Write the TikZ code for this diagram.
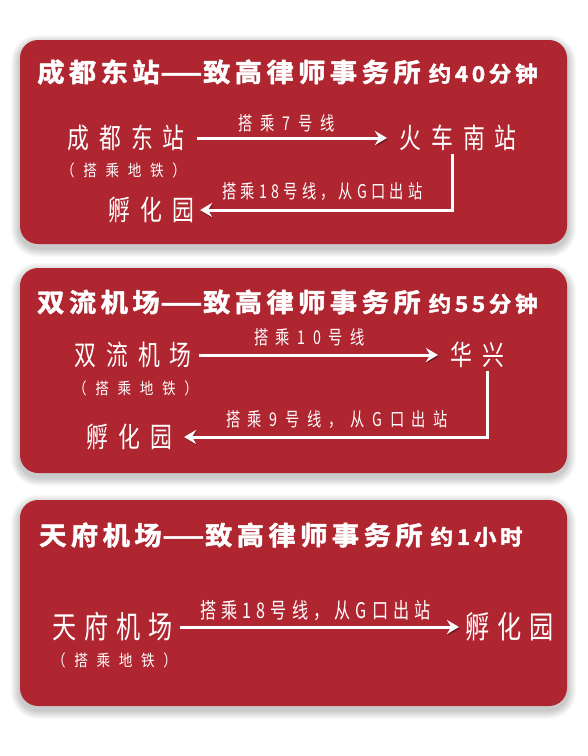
\documentclass[tikz,border=0pt]{standalone}
\usepackage{fontspec}
\usepackage{graphicx}
\usetikzlibrary{arrows.meta}
\newfontfamily\ttlfont{Noto Sans CJK SC Bold}[FakeStretch=1.05, LetterSpace=17, FakeBold=1.8]
\newfontfamily\stnfont{Noto Sans CJK SC}[FakeStretch=0.78, LetterSpace=36]
\newfontfamily\bigstnfont{Noto Sans CJK SC}[FakeStretch=0.78, LetterSpace=26]
\newfontfamily\lblfont{Noto Sans CJK SC}[FakeStretch=0.75]
\newfontfamily\subfont{Noto Sans CJK SC}[FakeStretch=0.85, LetterSpace=54]
\definecolor{panelred}{RGB}{176,38,48}
\newcommand{\panelbox}[2]{%
  \foreach \i in {1,...,9}{%
    \pgfmathsetmacro{\rr}{18+\i}%
    \fill[black, opacity=0.022, rounded corners=\rr pt]
      (20-\i,#1-\i+4) rectangle (567+\i,#2+\i+4);
  }%
  \fill[panelred, rounded corners=18pt] (20,#1) rectangle (567,#2);
}
\newcommand{\wdash}{\scalebox{1.75}[1]{—}}
\newcommand{\ls}[1]{\addfontfeature{LetterSpace=#1}}
\begin{document}
\begin{tikzpicture}[x=1pt,y=-1pt,
  ttl/.style={text=white, inner sep=0pt, anchor=west},
  stn/.style={text=white, inner sep=0pt, anchor=west, font=\stnfont\fontsize{28}{30}\selectfont},
  bigstn/.style={stn, font=\bigstnfont\fontsize{31}{33}\selectfont},
  sub/.style={text=white, inner sep=0pt, anchor=west, font=\subfont\fontsize{16}{18}\selectfont},
  lbl/.style={text=white, inner sep=0pt, font=\lblfont\fontsize{19}{21}\selectfont},
  biglbl/.style={lbl, font=\lblfont\fontsize{21.5}{24}\selectfont},
  conn/.style={draw=white, line width=3pt,
    -{Stealth[length=12pt,width=14pt,inset=4pt]},
    preaction={draw=black, opacity=0.3, transform canvas={shift={(1pt,-1.5pt)}}}}]
\useasboundingbox (0,0) rectangle (588,756);
\fill[white] (0,0) rectangle (588,756);

% ---------- panel 1 ----------
\panelbox{40}{244}
\node[ttl] (t1) at (37,72) {\ttlfont\fontsize{26}{30}\selectfont 成都东站\wdash 致高律师事务所\hspace{8pt}\fontsize{21.5}{24}\selectfont 约40分钟};
\node[stn] (a1) at (67,138) {成都东站};
\node[sub] (s1) at (61,170) {（搭乘地铁）};
\node[stn] (b1) at (399,138) {火车南站};
\node[stn] (c1) at (108,210) {孵化园};
\node[lbl] (l1) at (286.5,123) {\ls{42}搭乘7号线};
\node[lbl] (l2) at (322.5,192) {\ls{22}搭乘18号线，从G口出站};
\draw[conn, shorten <=12pt, shorten >=12pt] (a1.east) -- (b1.west);
\draw[conn, shorten <=3pt, shorten >=6pt] ([xshift=53pt]b1.south west) |- (c1.east);

% ---------- panel 2 ----------
\panelbox{268}{473}
\node[ttl] (t2) at (37,302) {\ttlfont\fontsize{26}{30}\selectfont 双流机场\wdash 致高律师事务所\hspace{8pt}\fontsize{21.5}{24}\selectfont 约55分钟};
\node[stn] (a2) at (74,355) {双流机场};
\node[sub] (s2) at (73,388) {（搭乘地铁）};
\node[stn] (b2) at (450,355) {华兴};
\node[stn] (c2) at (86,437) {孵化园};
\node[lbl] (l3) at (309.5,337) {\ls{40}搭乘10号线};
\node[lbl] (l4) at (337,420) {\ls{40}搭乘9号线，从G口出站};
\draw[conn, shorten <=7pt, shorten >=12pt] (a2.east) -- (b2.west);
\draw[conn, shorten <=3pt, shorten >=12pt] ([xshift=37pt]b2.south west) |- (c2.east);

% ---------- panel 3 ----------
\panelbox{500}{706}
\node[ttl] (t3) at (39,535) {\ttlfont\fontsize{26}{30}\selectfont 天府机场\wdash 致高律师事务所\hspace{8pt}\fontsize{21.5}{24}\selectfont 约1小时};
\node[bigstn] (a3) at (52,627) {天府机场};
\node[sub] (s3) at (52,660) {（搭乘地铁）};
\node[bigstn] (c3) at (465,627) {孵化园};
\node[biglbl] (l5) at (315.5,611) {\ls{24}搭乘18号线，从G口出站};
\draw[conn, shorten <=7pt, shorten >=6pt] (a3.east) -- (c3.west);
\end{tikzpicture}
\end{document}
